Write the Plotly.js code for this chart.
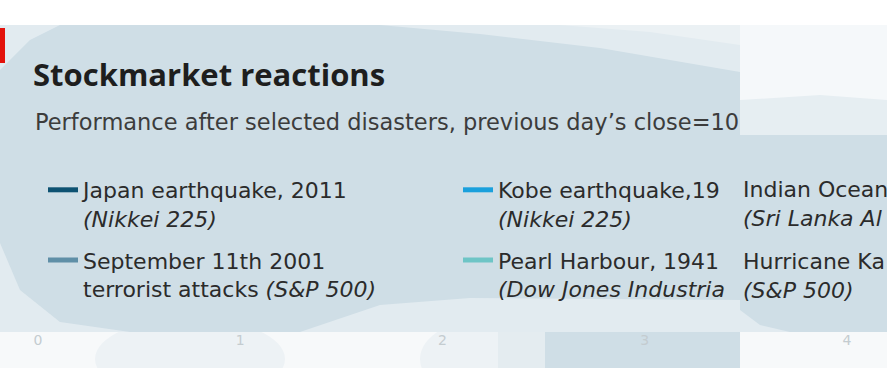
<!DOCTYPE html>
<html>
<head>
<meta charset="utf-8">
<script src="https://cdn.plot.ly/plotly-3.0.1.min.js"></script>
<style>html,body{margin:0;padding:0;background:#fff;}#chart{width:887px;height:392px;}</style>
</head>
<body>
<div id="chart"></div>
<script>
// ---- data ----
var titleText = "Stockmarket reactions";
var subtitleText = "Performance after selected disasters, previous day\u2019s close=10";
var days = [0];
var seriesNames = [
  "Japan earthquake, 2011",
  "September 11th 2001",
  "Kobe earthquake,19",
  "Pearl Harbour, 1941",
  "Indian Ocean",
  "Hurricane Ka"
];
var seriesIndex = [
  "<i>(Nikkei 225)</i>",
  "terrorist attacks <i>(S&P 500)</i>",
  "<i>(Nikkei 225)</i>",
  "<i>(Dow Jones Industria</i>",
  "<i>(Sri Lanka Al</i>",
  "<i>(S&P 500)</i>"
];
var japan2011 = [100];
var sept11 = [100];
var kobe1995 = [100];
var pearl1941 = [100];
var tsunami2004 = [100];
var katrina2005 = [100];
var xTicks = [0, 1, 2, 3, 4];

// ---- styles ----
var colors = ["#0d5272", "#5f8fa7", "#1aa0dc", "#6ec5c6", "#2a6f8f", "#8fb3c4"];
var values = [japan2011, sept11, kobe1995, pearl1941, tsunami2004, katrina2005];
var legendIds = ["legend", "legend", "legend2", "legend2", "legend", "legend"];
var W = 887, H = 392;
var mL = 38, mR = 40, mT = 300, mB = 62;
var pw = W - mL - mR, ph = H - mT - mB;
function cx(px){ return px / W; }
function cy(px){ return 1 - px / H; }
function px2x(px){ return (px - mL) / pw; }
function px2y(py){ return (H - mB - py) / ph; }

var traces = values.map(function(v, i){
  return {
    type: "scatter", mode: "lines", x: days, y: v,
    name: seriesNames[i] + "<br>" + seriesIndex[i],
    line: {color: colors[i], width: 5},
    legend: legendIds[i],
    legendgroup: "g" + i,
    showlegend: i < 4
  };
});

var font = "'DejaVu Sans', sans-serif";
var titleFont = "'Open Sans', sans-serif";
var panel = "#cfdee6";
var textCol = "#2b2b2b";

function P(pts){
  return "M" + pts.map(function(p){ return px2x(p[0]).toFixed(5) + "," + px2y(p[1]).toFixed(5); }).join(" L") + " Z";
}
function box(x0, y0, x1, y1, col){
  return {type:"rect", xref:"paper", yref:"paper", layer:"below",
    x0:px2x(x0), x1:px2x(x1), y0:px2y(y1), y1:px2y(y0), fillcolor:col, line:{width:0}};
}
function ell(x0, y0, x1, y1, col){
  return {type:"circle", xref:"paper", yref:"paper", layer:"below",
    x0:px2x(x0), x1:px2x(x1), y0:px2y(y1), y1:px2y(y0), fillcolor:col, line:{width:0}};
}
function path(pts, col){
  return {type:"path", xref:"paper", yref:"paper", layer:"below", path:P(pts), fillcolor:col, line:{width:0}};
}
var deco = [
  box(0, 332, 887, 368, "#f7f9fa"),
  ell(95, 318, 285, 400, "#edf2f5"),
  ell(420, 318, 560, 400, "#edf2f5"),
  box(498, 332, 545, 368, "#e4ecf0"),
  box(545, 332, 740, 368, panel),
  box(0, 368, 887, 392, "#ffffff"),
  box(0, 25, 887, 332, panel),
  path([[0,25],[60,25],[30,40],[8,62],[0,70]], "#e2ebf0"),
  path([[380,25],[740,25],[740,72],[600,48],[480,34]], "#e2ebf0"),
  path([[560,25],[740,25],[740,45],[650,32]], "#ebf1f4"),
  box(740, 25, 887, 135, "#e6eef2"),
  path([[740,25],[887,25],[887,100],[820,95],[740,100]], "#f5f8fa"),
  path([[740,135],[800,115],[887,112],[887,135]], "#e6eef2"),
  path([[0,243],[20,290],[60,322],[130,332],[0,332]], "#e2ebf0"),
  path([[300,332],[380,305],[470,298],[740,300],[740,332]], "#e2ebf0"),
  path([[740,310],[760,325],[790,332],[740,332]], "#e2ebf0"),
  box(0, 28, 5, 63, "#e3120b")
];

var annotations = [
  {xref:"paper", yref:"paper", x:px2x(33), y:px2y(122), xanchor:"left", yanchor:"middle",
   text: subtitleText, showarrow:false, font:{family:font, size:22.5, color:"#3c3c3c"}},
  {xref:"paper", yref:"paper", x:px2x(741), y:px2y(176), xanchor:"left", yanchor:"top", align:"left",
   text: seriesNames[4] + "<br>" + seriesIndex[4], showarrow:false, yshift:1,
   font:{family:font, size:22, color:textCol}},
  {xref:"paper", yref:"paper", x:px2x(741), y:px2y(248), xanchor:"left", yanchor:"top", align:"left",
   text: seriesNames[5] + "<br>" + seriesIndex[5], showarrow:false, yshift:1,
   font:{family:font, size:22, color:textCol}}
];

var legendBase = {
  xref:"container", yref:"container", xanchor:"left", yanchor:"top",
  bgcolor:"rgba(0,0,0,0)", borderwidth:0, valign:"top", tracegroupgap:10,
  font:{family:font, size:22, color:textCol}, orientation:"v"
};
var layout = {
  width: W, height: H,
  paper_bgcolor: "#ffffff", plot_bgcolor: "rgba(0,0,0,0)",
  margin: {l:mL, r:mR, t:mT, b:mB, pad:0, autoexpand:false},
  title: {text: "<b>" + titleText + "</b>", xref:"container", yref:"container",
    x: cx(33), y: cy(75), xanchor:"left", yanchor:"middle",
    font:{family:titleFont, size:31, color:"#1e1e1e"}},
  xaxis: {range:[0,4], tickvals:xTicks, ticks:"", showgrid:false, zeroline:false, showline:false,
    tickfont:{family:font, size:14, color:"#c4ccd0"}, fixedrange:true},
  yaxis: {visible:false, range:[90,110], fixedrange:true},
  showlegend: true,
  legend: Object.assign({}, legendBase, {x: cx(43), y: cy(169)}),
  legend2: Object.assign({}, legendBase, {x: cx(458), y: cy(169)}),
  shapes: deco,
  annotations: annotations
};
Plotly.newPlot("chart", traces, layout, {staticPlot:true, displayModeBar:false});
</script>
</body>
</html>
